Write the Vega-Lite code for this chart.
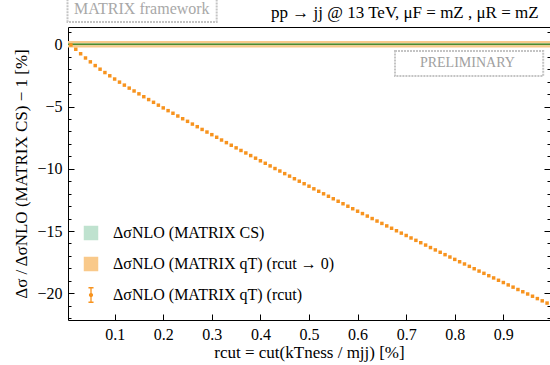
{
  "$schema": "https://vega.github.io/schema/vega-lite/v6.json",
  "width": 482,
  "height": 293,
  "autosize": "none",
  "padding": {"left": 68, "top": 27, "right": 0, "bottom": 45},
  "config": {
    "view": {"stroke": "black", "strokeWidth": 1},
    "font": "Liberation Serif",
    "axis": {
      "grid": false,
      "domain": false,
      "tickColor": "black",
      "labelColor": "black",
      "labelFont": "Liberation Serif",
      "labelFontSize": 16,
      "titleFont": "Liberation Serif",
      "titleFontSize": 17,
      "titleFontWeight": "normal",
      "titleColor": "black"
    }
  },
  "datasets": {
    "bands": [
      {"series": "qT0", "lo": -0.26, "hi": 0.26},
      {"series": "CS", "lo": -0.08, "hi": 0.08}
    ],
    "curve": [
      {"r": 0.01, "d": -0.05}, {"r": 0.02, "d": -0.40}, {"r": 0.03, "d": -0.76}, {"r": 0.04, "d": -1.10},
      {"r": 0.05, "d": -1.41}, {"r": 0.06, "d": -1.71}, {"r": 0.07, "d": -2.00}, {"r": 0.08, "d": -2.27},
      {"r": 0.09, "d": -2.53}, {"r": 0.10, "d": -2.79}, {"r": 0.11, "d": -3.04}, {"r": 0.12, "d": -3.28},
      {"r": 0.13, "d": -3.52}, {"r": 0.14, "d": -3.75}, {"r": 0.15, "d": -3.98}, {"r": 0.16, "d": -4.21},
      {"r": 0.17, "d": -4.44}, {"r": 0.18, "d": -4.66}, {"r": 0.19, "d": -4.89}, {"r": 0.20, "d": -5.11},
      {"r": 0.21, "d": -5.33}, {"r": 0.22, "d": -5.54}, {"r": 0.23, "d": -5.76}, {"r": 0.24, "d": -5.98},
      {"r": 0.25, "d": -6.19}, {"r": 0.26, "d": -6.41}, {"r": 0.27, "d": -6.62}, {"r": 0.28, "d": -6.84},
      {"r": 0.29, "d": -7.05}, {"r": 0.30, "d": -7.26}, {"r": 0.31, "d": -7.47}, {"r": 0.32, "d": -7.69},
      {"r": 0.33, "d": -7.90}, {"r": 0.34, "d": -8.11}, {"r": 0.35, "d": -8.32}, {"r": 0.36, "d": -8.53},
      {"r": 0.37, "d": -8.73}, {"r": 0.38, "d": -8.94}, {"r": 0.39, "d": -9.15}, {"r": 0.40, "d": -9.36},
      {"r": 0.41, "d": -9.56}, {"r": 0.42, "d": -9.77}, {"r": 0.43, "d": -9.98}, {"r": 0.44, "d": -10.18},
      {"r": 0.45, "d": -10.39}, {"r": 0.46, "d": -10.59}, {"r": 0.47, "d": -10.80}, {"r": 0.48, "d": -11.00},
      {"r": 0.49, "d": -11.20}, {"r": 0.50, "d": -11.40}, {"r": 0.51, "d": -11.61}, {"r": 0.52, "d": -11.81},
      {"r": 0.53, "d": -12.01}, {"r": 0.54, "d": -12.21}, {"r": 0.55, "d": -12.41}, {"r": 0.56, "d": -12.61},
      {"r": 0.57, "d": -12.81}, {"r": 0.58, "d": -13.01}, {"r": 0.59, "d": -13.21}, {"r": 0.60, "d": -13.41},
      {"r": 0.61, "d": -13.60}, {"r": 0.62, "d": -13.80}, {"r": 0.63, "d": -14.00}, {"r": 0.64, "d": -14.20},
      {"r": 0.65, "d": -14.39}, {"r": 0.66, "d": -14.59}, {"r": 0.67, "d": -14.78}, {"r": 0.68, "d": -14.98},
      {"r": 0.69, "d": -15.17}, {"r": 0.70, "d": -15.36}, {"r": 0.71, "d": -15.56}, {"r": 0.72, "d": -15.75},
      {"r": 0.73, "d": -15.94}, {"r": 0.74, "d": -16.13}, {"r": 0.75, "d": -16.33}, {"r": 0.76, "d": -16.52},
      {"r": 0.77, "d": -16.71}, {"r": 0.78, "d": -16.90}, {"r": 0.79, "d": -17.09}, {"r": 0.80, "d": -17.28},
      {"r": 0.81, "d": -17.47}, {"r": 0.82, "d": -17.65}, {"r": 0.83, "d": -17.84}, {"r": 0.84, "d": -18.03},
      {"r": 0.85, "d": -18.22}, {"r": 0.86, "d": -18.40}, {"r": 0.87, "d": -18.59}, {"r": 0.88, "d": -18.77},
      {"r": 0.89, "d": -18.96}, {"r": 0.90, "d": -19.14}, {"r": 0.91, "d": -19.33}, {"r": 0.92, "d": -19.51},
      {"r": 0.93, "d": -19.70}, {"r": 0.94, "d": -19.88}, {"r": 0.95, "d": -20.06}, {"r": 0.96, "d": -20.24},
      {"r": 0.97, "d": -20.43}, {"r": 0.98, "d": -20.61}, {"r": 0.99, "d": -20.79}
    ],
    "labels": [
      {"label": "MATRIX framework", "box": "matrix"},
      {"label": "PRELIMINARY", "box": "prelim"},
      {"label": "pp → jj @ 13 TeV, μF = mZ , μR = mZ", "box": "title"}
    ]
  },
  "layer": [
    {
      "data": {"name": "bands"},
      "mark": {"type": "rect"},
      "encoding": {
        "x": {"datum": 0.004, "type": "quantitative", "axis": null},
        "x2": {"datum": 0.996},
        "y": {"field": "lo", "type": "quantitative", "axis": {"orient": "right", "values": [-22, -21, -20, -19, -18, -17, -16, -15, -14, -13, -12, -11, -10, -9, -8, -7, -6, -5, -4, -3, -2, -1, 0, 1], "labels": false, "tickSize": {"condition": {"test": "datum.value % 5 == 0", "value": -6}, "value": -3}, "title": null}},
        "y2": {"field": "hi"},
        "color": {
          "field": "series",
          "type": "nominal",
          "scale": {"domain": ["CS", "qT0", "qT"], "range": ["#bfe2cf", "#f9c98a", "#f7931e"]},
          "legend": {
            "orient": "bottom-left",
            "offset": 15,
            "padding": 0,
            "title": null,
            "symbolSize": 210,
            "symbolStrokeWidth": 0,
            "labelFont": "Liberation Serif",
            "labelFontSize": 16,
            "labelColor": "black",
            "labelOffset": 14,
            "rowPadding": 11,
            "labelLimit": 300,
            "labelExpr": "datum.value == 'CS' ? 'ΔσNLO (MATRIX CS)' : datum.value == 'qT0' ? 'ΔσNLO (MATRIX qT) (rcut → 0)' : 'ΔσNLO (MATRIX qT) (rcut)'",
            "encode": {
              "symbols": {
                "update": {
                  "shape": {"signal": "datum.value == 'qT' ? 'M0,-1V1M-0.35,-1H0.35M-0.35,1H0.35M-0.2,0A0.2,0.2 0 1 1 0.2,0A0.2,0.2 0 1 1 -0.2,0Z' : 'square'"},
                  "stroke": {"signal": "datum.value == 'qT' ? '#f7931e' : 'transparent'"},
                  "strokeWidth": {"value": 1.3},
                  "opacity": {"value": 1}
                }
              }
            }
          }
        }
      }
    },
    {
      "data": {"name": "bands"},
      "transform": [{"filter": "datum.series == 'CS'"}],
      "mark": {"type": "rule", "color": "#4f8b2e", "strokeWidth": 1.6},
      "encoding": {
        "y": {"datum": 0, "axis": null}
      }
    },
    {
      "data": {"name": "curve"},
      "mark": {"type": "point", "filled": true, "shape": "square", "size": 12, "opacity": 1},
      "encoding": {
        "x": {
          "field": "r",
          "type": "quantitative",
          "scale": {"domain": [0.004, 0.996], "nice": false, "zero": false},
          "axis": {
            "values": [0.1, 0.2, 0.3, 0.4, 0.5, 0.6, 0.7, 0.8, 0.9],
            "format": ".1f",
            "tickSize": -6,
            "labelPadding": 12,
            "title": "rcut = cut(kTness / mjj) [%]",
            "titlePadding": 2
          }
        },
        "y": {
          "field": "d",
          "type": "quantitative",
          "scale": {"domain": [-22.15, 1.39], "nice": false, "zero": false},
          "axis": {
            "orient": "left",
            "values": [-22, -21, -20, -19, -18, -17, -16, -15, -14, -13, -12, -11, -10, -9, -8, -7, -6, -5, -4, -3, -2, -1, 0, 1],
            "labelExpr": "datum.value % 5 == 0 ? datum.label : ''",
            "tickSize": {"condition": {"test": "datum.value % 5 == 0", "value": -6}, "value": -3},
            "labelPadding": 12,
            "title": "Δσ / ΔσNLO (MATRIX CS) − 1 [%]",
            "titlePadding": 6
          }
        },
        "color": {"datum": "qT"}
      }
    },
    {
      "data": {"name": "labels"},
      "transform": [{"filter": "datum.box == 'matrix'"}],
      "mark": {"type": "rect", "fill": null, "stroke": "#c4c4c4", "strokeWidth": 2, "strokeDash": [2, 1]},
      "encoding": {
        "x": {"datum": 0.003, "axis": null},
        "x2": {"datum": 0.31},
        "y": {"datum": 1.8, "axis": null},
        "y2": {"datum": 3.9}
      }
    },
    {
      "data": {"name": "labels"},
      "transform": [{"filter": "datum.box == 'matrix'"}],
      "mark": {"type": "text", "font": "Liberation Serif", "fontSize": 16, "color": "#a8a8a8", "baseline": "alphabetic", "align": "center"},
      "encoding": {
        "x": {"datum": 0.156, "axis": null},
        "y": {"datum": 2.43, "axis": null},
        "text": {"field": "label"}
      }
    },
    {
      "data": {"name": "labels"},
      "transform": [{"filter": "datum.box == 'prelim'"}],
      "mark": {"type": "rect", "fill": null, "stroke": "#c4c4c4", "strokeWidth": 2, "strokeDash": [2, 1]},
      "encoding": {
        "x": {"datum": 0.677, "axis": null},
        "x2": {"datum": 0.982},
        "y": {"datum": -0.54, "axis": null},
        "y2": {"datum": -2.55}
      }
    },
    {
      "data": {"name": "labels"},
      "transform": [{"filter": "datum.box == 'prelim'"}],
      "mark": {"type": "text", "font": "Liberation Serif", "fontSize": 14, "color": "#a0a0a0", "baseline": "alphabetic", "align": "center", "letterSpacing": 0.5},
      "encoding": {
        "x": {"datum": 0.826, "axis": null},
        "y": {"datum": -1.8, "axis": null},
        "text": {"field": "label"}
      }
    },
    {
      "data": {"name": "labels"},
      "transform": [{"filter": "datum.box == 'title'"}],
      "mark": {"type": "text", "font": "Liberation Serif", "fontSize": 17, "color": "black", "baseline": "alphabetic", "align": "left"},
      "encoding": {
        "x": {"datum": 0.422, "axis": null},
        "y": {"datum": 2.09, "axis": null},
        "text": {"field": "label"}
      }
    }
  ],
  "resolve": {"axis": {"x": "independent", "y": "independent"}}
}
